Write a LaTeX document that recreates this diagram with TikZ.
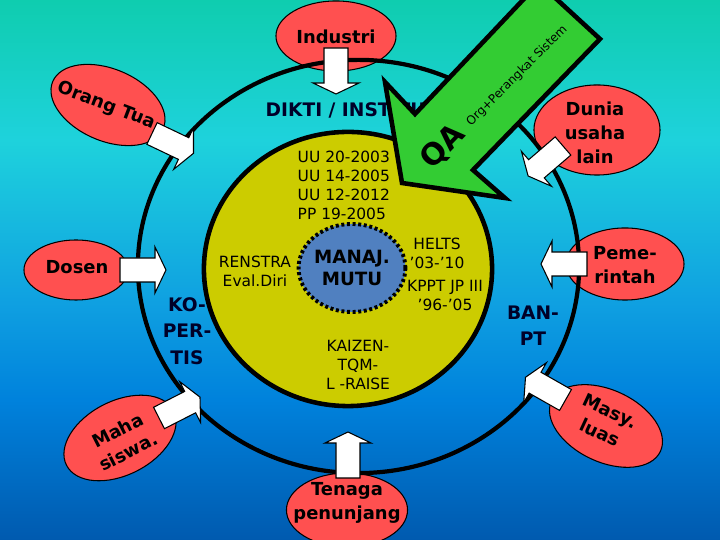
\documentclass[tikz,border=0pt]{standalone}
\usepackage{fontspec}
\setmainfont{DejaVu Sans}
\usetikzlibrary{shapes.geometric}
\definecolor{blobred}{RGB}{255,80,80}
\definecolor{coreyellow}{RGB}{204,204,0}
\definecolor{manajblue}{RGB}{80,128,192}
\definecolor{qagreen}{RGB}{51,204,51}
\definecolor{navytext}{RGB}{0,0,40}
\definecolor{bgbottom}{RGB}{0,90,175}
\definecolor{bglow}{RGB}{0,130,220}
\definecolor{bgmid}{RGB}{15,160,225}
\definecolor{bghigh}{RGB}{30,210,220}
\definecolor{bgtop}{RGB}{15,205,175}
\pgfdeclareverticalshading{bgshade}{100bp}{
  color(0bp)=(bgbottom);
  color(25bp)=(bgbottom);
  color(38bp)=(bglow);
  color(47bp)=(bgmid);
  color(62bp)=(bghigh);
  color(75bp)=(bgtop);
  color(100bp)=(bgtop)}
\tikzset{
  blob/.style={ellipse,draw=black,fill=blobred,line width=0.3pt,inner sep=0pt},
  oval/.style={ellipse,draw=black,inner sep=0pt},
  blockarrow/.style={draw=black,fill=white,line width=0.3pt},
  boldlabel/.style={font=\fontsize{5.1}{6.8}\selectfont\bfseries,align=center,inner sep=0pt},
  thinlabel/.style={font=\fontsize{4.4}{5.4}\selectfont,align=center,inner sep=0pt}
}
\begin{document}
\begin{tikzpicture}[x=0.01cm,y=-0.01cm]
\useasboundingbox (0,0) rectangle (720,540);
\shade[shading=bgshade] (0,0) rectangle (720,540);
% outer partners
\node[blob,minimum width=1.2cm,minimum height=0.7cm] (industri) at (336,36) {};
\node[blob,minimum width=1.2cm,minimum height=0.72cm,rotate=-23] (orang) at (108,105) {};
\node[blob,minimum width=1.04cm,minimum height=0.6cm] (dosen) at (76,270) {};
\node[blob,minimum width=1.2cm,minimum height=0.74cm,rotate=27] (maha) at (120,438) {};
\node[blob,minimum width=1.2cm,minimum height=0.72cm,rotate=-25] (masy) at (606,426) {};
\node[blob,minimum width=1.21cm,minimum height=0.74cm] (tenaga) at (347,510) {};
\node[blob,minimum width=1.26cm,minimum height=0.9cm] (dunia) at (597,130) {};
\node[blob,minimum width=1.18cm,minimum height=0.72cm] (pemerintah) at (625,264) {};
% rings
\node[oval,line width=1.2pt,minimum width=4.41cm,minimum height=4.13cm] (ring) at (358.5,266.5) {};
\node[oval,fill=coreyellow,line width=1.3pt,minimum width=2.88cm,minimum height=2.74cm] (core) at (348,269) {};
\node[oval,fill=manajblue,line width=1.1pt,dash pattern=on 0.85pt off 0.75pt,minimum width=1.04cm,minimum height=0.88cm,
  font=\fontsize{5.2}{6.5}\selectfont\bfseries,align=center] (manaj) at (352,268) {MANAJ.\\MUTU};
% white arrows, tail and direction
\coordinate (tailIndustri) at (336,48);
\coordinate (tailOrang) at (152,133.5);
\coordinate (tailDosen) at (120,270);
\coordinate (tailMaha) at (159,418);
\coordinate (tailMasy) at (565.5,400);
\coordinate (tailTenaga) at (348,478);
\coordinate (tailDunia) at (563,146);
\coordinate (tailPemerintah) at (587,264);
\foreach \tail/\ang in {tailIndustri/-90,tailOrang/-25.5,tailDosen/0,tailMaha/27,tailMasy/150.4,tailTenaga/90,tailDunia/220.7,tailPemerintah/180}
  \draw[blockarrow,shift={(\tail)},rotate=\ang] (0,-12) -- (35,-12) -- (35,-23) -- (46,0) -- (35,23) -- (35,12) -- (0,12) -- cycle;
% texts
\node[boldlabel] (tIndustri) at (336,37) {Industri};
\node[boldlabel,rotate=-21] (tOrang) at (106,106) {Orang Tua};
\node[boldlabel] (tDosen) at (77,267) {Dosen};
\node[boldlabel,rotate=27] (tMaha) at (123,441) {Maha\\siswa.};
\node[boldlabel,rotate=-25] (tMasy) at (605,422) {Masy.\\luas};
\node[boldlabel] (tTenaga) at (347,503) {Tenaga\\penunjang};
\node[boldlabel] (tDunia) at (595,133) {Dunia\\usaha\\lain};
\node[boldlabel] (tPemerintah) at (625,265) {Peme-\\rintah};
\node[boldlabel,text=navytext,font=\fontsize{5.3}{7.5}\selectfont\bfseries] (kopertis) at (187,331) {KO-\\PER-\\TIS};
\node[boldlabel,text=navytext,font=\fontsize{5.3}{7.5}\selectfont\bfseries] (banpt) at (533,326) {BAN-\\PT};
\node[boldlabel,text=navytext,anchor=west,font=\fontsize{5.3}{7}\selectfont\bfseries] (dikti) at (265,110) {DIKTI / INSTITUSI};
\node[thinlabel,anchor=west,align=left] (uu) at (297,185.5) {UU 20-2003\\UU 14-2005\\UU 12-2012\\PP 19-2005};
\node[thinlabel] (renstra) at (255,271.5) {RENSTRA\\Eval.Diri};
\node[thinlabel] (helts) at (437,253.5) {HELTS\\’03-’10};
\node[thinlabel] (kppt) at (445,295.5) {KPPT JP III\\’96-’05};
\node[thinlabel] (kaizen) at (358,365) {KAIZEN-\\TQM-\\L -RAISE};
% green arrow on top
\draw[draw=black,fill=qagreen,line width=1.3pt] (600,39) -- (539,-17) -- (415,114) -- (385,82) -- (402,183) -- (505,198) -- (473,170) -- cycle;
\node[inner sep=0pt,rotate=46,font=\fontsize{8.5}{10}\selectfont\bfseries] (qa) at (443,147) {QA};
\node[inner sep=0pt,rotate=45,font=\fontsize{3.4}{4}\selectfont] (org) at (517,76) {Org+Perangkat Sistem};
\end{tikzpicture}
\end{document}
